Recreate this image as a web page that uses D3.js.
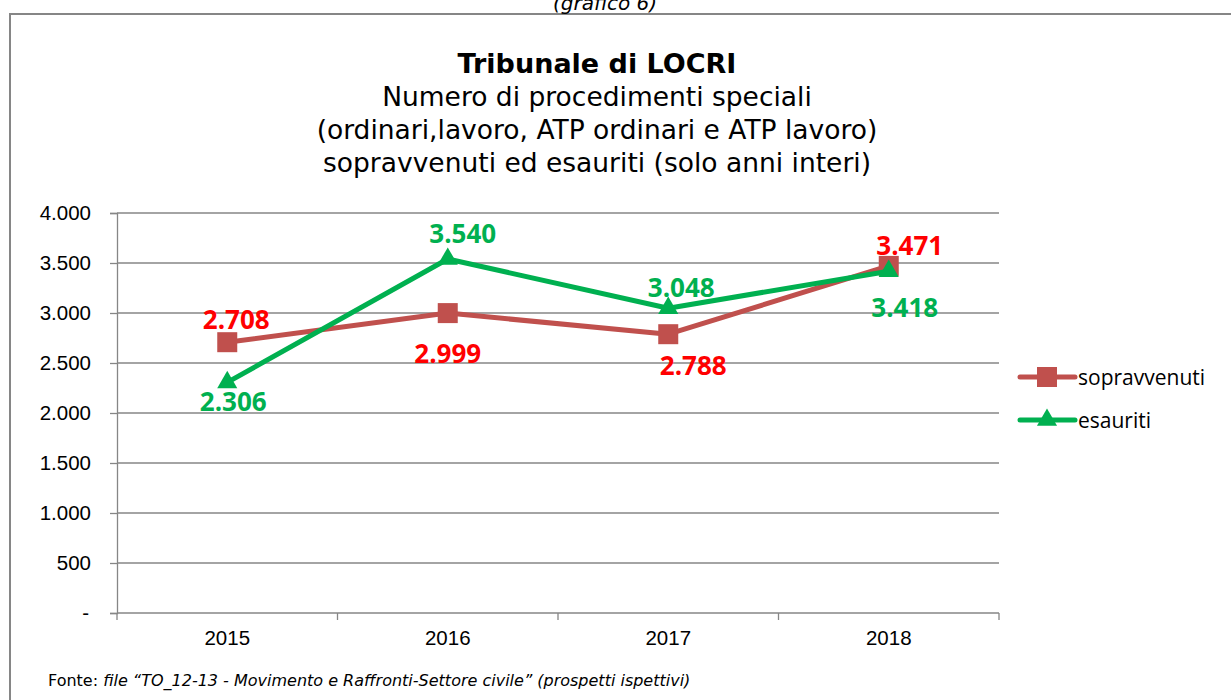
<!DOCTYPE html>
<html>
<head>
<meta charset="utf-8">
<script src="https://cdn.jsdelivr.net/npm/d3@7"></script>
<style>
  body { margin: 0; background: #fff; }
  svg { display: block; }
</style>
</head>
<body>
<script>
const years = ["2015", "2016", "2017", "2018"];
const sopravvenuti = [2708, 2999, 2788, 3471];
const esauriti = [2306, 3540, 3048, 3418];
const yTicks = [0, 500, 1000, 1500, 2000, 2500, 3000, 3500, 4000];
const titleLines = ["Numero di procedimenti speciali", "(ordinari,lavoro, ATP ordinari e ATP lavoro)", "sopravvenuti ed esauriti (solo anni interi)"];

const w = 1231, h = 700;
const plotLeft = 117, plotRight = 999, plotTop = 213, plotBottom = 613;

const svg = d3.select("body").append("svg").attr("width", w).attr("height", h);

// frame
svg.append("rect").attr("x", 10).attr("y", 14).attr("width", 1240).attr("height", 720)
  .attr("fill", "none").attr("stroke", "#868686").attr("stroke-width", 2);

svg.append("text").attr("x", 605).attr("y", 10).attr("text-anchor", "middle")
  .style("font-family", "DejaVu Sans").style("font-style", "italic").style("font-size", "20px")
  .text("(grafico 6)");

svg.append("text").attr("x", 597).attr("y", 73).attr("text-anchor", "middle")
  .style("font-family", "DejaVu Sans").style("font-weight", "bold").style("font-size", "27px")
  .text("Tribunale di LOCRI");

titleLines.forEach((t, i) => {
  svg.append("text").attr("x", 597).attr("y", 106 + i * 33).attr("text-anchor", "middle")
    .style("font-family", "DejaVu Sans").style("font-size", "26.5px")
    .text(t);
});

const x = d3.scaleBand().domain(years).range([plotLeft, plotRight]);
const y = d3.scaleLinear().domain([0, 4000]).range([plotBottom, plotTop]);

// gridlines
svg.append("g").selectAll("line").data(yTicks.filter(d => d > 0)).join("line")
  .attr("x1", plotLeft).attr("x2", plotRight)
  .attr("y1", d => y(d)).attr("y2", d => y(d))
  .attr("stroke", "#868686").attr("stroke-width", 1.3);

const fmt = d => d === 0 ? "-" : d3.format(",")(d).replace(/,/g, ".");

const yAxis = svg.append("g").attr("transform", `translate(${plotLeft},0)`)
  .call(d3.axisLeft(y).tickValues(yTicks).tickFormat(fmt).tickSize(7).tickPadding(19));
yAxis.select(".domain").attr("stroke", "#868686").attr("stroke-width", 1.3);
yAxis.selectAll(".tick line").attr("stroke", "#868686").attr("stroke-width", 1.3);
yAxis.selectAll("text").style("font-family", "Liberation Sans").style("font-size", "20.5px").attr("fill", "#000");
yAxis.selectAll(".tick").filter(d => d === 0).select("text").attr("dx", -2);

const xAxis = svg.append("g").attr("transform", `translate(0,${plotBottom})`)
  .call(d3.axisBottom(x).tickSize(0).tickPadding(17));
xAxis.select(".domain").remove();
svg.append("line").attr("x1", plotLeft).attr("x2", plotRight).attr("y1", plotBottom).attr("y2", plotBottom)
  .attr("stroke", "#868686").attr("stroke-width", 1.3);
svg.append("g").selectAll("line").data(years.concat(["end"])).join("line")
  .attr("x1", (d, i) => plotLeft + i * x.bandwidth()).attr("x2", (d, i) => plotLeft + i * x.bandwidth())
  .attr("y1", plotBottom).attr("y2", plotBottom + 7)
  .attr("stroke", "#868686").attr("stroke-width", 1.3);
xAxis.selectAll("text").style("font-family", "Liberation Sans").style("font-size", "20.5px").attr("fill", "#000");

const cx = (d, i) => x(years[i]) + x.bandwidth() / 2;
const line = d3.line().x(cx).y(d => y(d));

const series = [
  { name: "sopravvenuti", values: sopravvenuti, color: "#C0504D", label: "#FF0000", marker: "square" },
  { name: "esauriti", values: esauriti, color: "#00B050", label: "#00B050", marker: "triangle" }
];

function marker(g, type, color) {
  if (type === "square") {
    g.append("rect").attr("x", -10).attr("y", -10).attr("width", 20).attr("height", 20).attr("fill", color);
  } else {
    g.append("path").attr("d", d3.symbol(d3.symbolTriangle, 175)()).attr("fill", color);
  }
}

series.forEach(s => {
  svg.append("path").datum(s.values).attr("d", line)
    .attr("fill", "none").attr("stroke", s.color).attr("stroke-width", 5).attr("stroke-linejoin", "round");
  s.values.forEach((v, i) => {
    const g = svg.append("g").attr("transform", `translate(${cx(v, i)},${y(v)})`);
    marker(g, s.marker, s.color);
  });
});

// data labels: [dx, baseline dy] from the point
const labelOffsets = {
  sopravvenuti: [[9, -13], [0, 50], [25, 41], [21, -11]],
  esauriti: [[6, 29], [15, -16], [13, -11], [16, 46]]
};
series.forEach(s => {
  svg.append("g").selectAll("text").data(s.values).join("text")
    .attr("x", (d, i) => cx(d, i) + labelOffsets[s.name][i][0])
    .attr("y", (d, i) => y(d) + labelOffsets[s.name][i][1])
    .attr("text-anchor", "middle")
    .style("font-family", "Open Sans").style("font-weight", "bold").style("font-size", "26px")
    .attr("fill", s.label)
    .text(fmt);
});

// legend
const legend = svg.append("g").attr("transform", "translate(1020,377)");
series.forEach((s, i) => {
  const g = legend.append("g").attr("transform", `translate(0,${i * 43})`);
  g.append("line").attr("x1", 0).attr("x2", 55).attr("stroke", s.color).attr("stroke-width", 5).attr("stroke-linecap", "round");
  const m = g.append("g").attr("transform", "translate(27,0)");
  marker(m, s.marker, s.color);
  g.append("text").attr("x", 58).attr("y", 8).style("font-family", "Open Sans").style("font-size", "21px")
    .text(s.name);
});

const fonte = svg.append("text").attr("x", 48).attr("y", 686)
  .style("font-family", "DejaVu Sans").style("font-size", "16px");
fonte.append("tspan").text("Fonte: ");
fonte.append("tspan").style("font-style", "italic").text("file \u201CTO_12-13 - Movimento e Raffronti-Settore civile\u201D (prospetti ispettivi)");
</script>
</body>
</html>
